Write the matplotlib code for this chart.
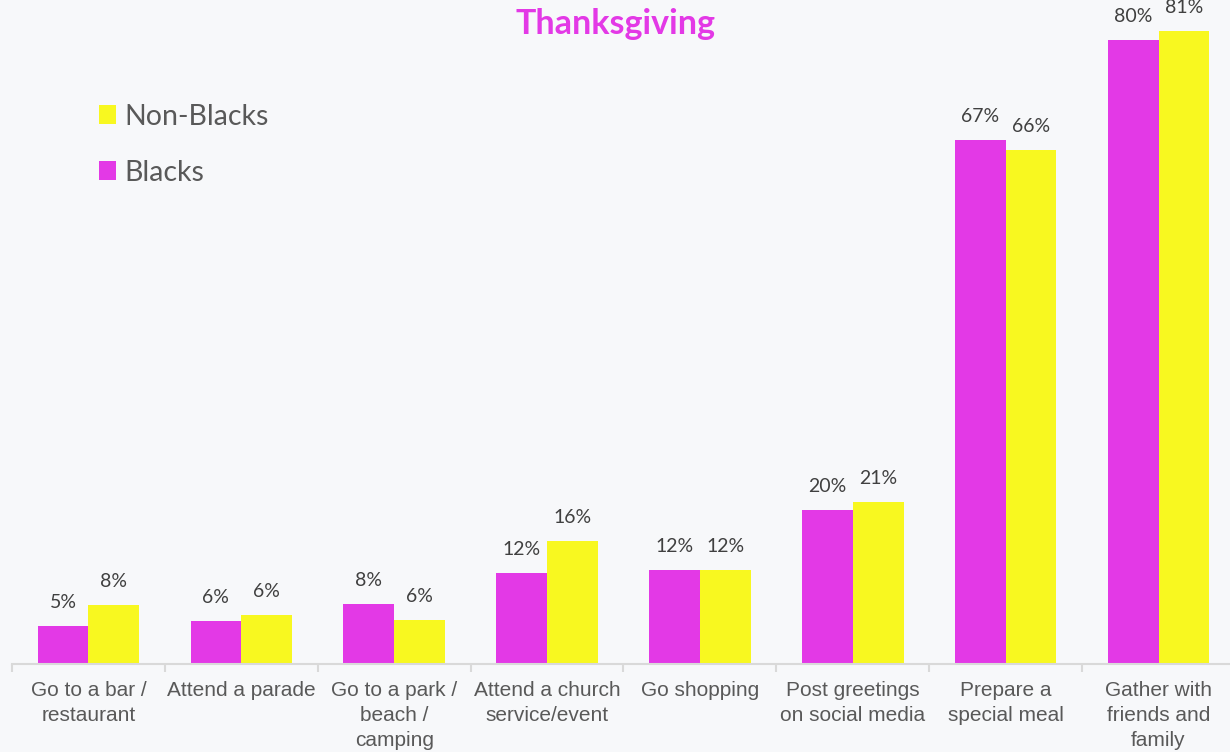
import matplotlib.pyplot as plt
import numpy as np

# Data (percent)
categories = [
    "Go to a bar /\nrestaurant",
    "Attend a parade",
    "Go to a park /\nbeach /\ncamping",
    "Attend a church\nservice/event",
    "Go shopping",
    "Post greetings\non social media",
    "Prepare a\nspecial meal",
    "Gather with\nfriends and\nfamily",
]
blacks = [4.9, 5.5, 7.7, 11.7, 12.1, 19.7, 67.2, 80.0]
non_blacks = [7.6, 6.3, 5.6, 15.8, 12.1, 20.8, 65.9, 81.2]
blacks_labels = ["5%", "6%", "8%", "12%", "12%", "20%", "67%", "80%"]
non_blacks_labels = ["8%", "6%", "6%", "16%", "12%", "21%", "66%", "81%"]

BG = "#F7F8FA"
MAGENTA = "#E339E6"
YELLOW = "#F8F820"

fig = plt.figure(figsize=(12.3, 7.52), dpi=100, facecolor=BG)
ax = fig.add_axes([12 / 1230, 1 - 664 / 752, 1223 / 1230, 663 / 752])
ax.set_facecolor(BG)

x = np.arange(len(categories))
w = 0.332
b1 = ax.bar(x - w / 2, blacks, w, color=MAGENTA, label="Blacks")
b2 = ax.bar(x + w / 2, non_blacks, w, color=YELLOW, label="Non-Blacks")

# Data labels above bars
for bars, labels in [(b1, blacks_labels), (b2, non_blacks_labels)]:
    for rect, lab in zip(bars, labels):
        ax.annotate(lab, (rect.get_x() + rect.get_width() / 2, rect.get_height()),
                    xytext=(0, 17), textcoords="offset points",
                    ha="center", va="center", fontsize=14,
                    family="Lato", color="#404040", annotation_clip=False)

ax.set_xlim(-0.5, 7.5)
ax.set_ylim(0, 85)
ax.set_yticks([])

# Category labels and boundary ticks
ax.set_xticks(x)
ax.set_xticklabels(categories, fontsize=15, family="Liberation Sans",
                   color="#595959", linespacing=1.4, va="top")
ax.tick_params(axis="x", which="major", length=0, pad=12)
ax.set_xticks(np.arange(-0.5, 7.5, 1), minor=True)
ax.tick_params(axis="x", which="minor", length=6, color="#D9D9D9", width=1.5)

for s in ["top", "right", "left"]:
    ax.spines[s].set_visible(False)
ax.spines["bottom"].set_color("#D9D9D9")
ax.spines["bottom"].set_linewidth(1.5)

fig.text(0.5, 1 - 24 / 752, "Thanksgiving", ha="center", va="center",
         fontsize=24.5, fontweight="bold", family="Lato", color=MAGENTA)

# Legend (Non-Blacks on top)
handles = [b2, b1]
leg = ax.legend(handles, ["Non-Blacks", "Blacks"], loc="upper left",
                bbox_to_anchor=(61 / 1223, 1 - 77 / 663), frameon=False,
                prop={"family": "Lato", "size": 20.5}, labelcolor="#595959",
                handlelength=0.62, handleheight=0.62, handletextpad=0.3,
                labelspacing=1.05)

fig.savefig("out.png", dpi=100, facecolor=BG)
